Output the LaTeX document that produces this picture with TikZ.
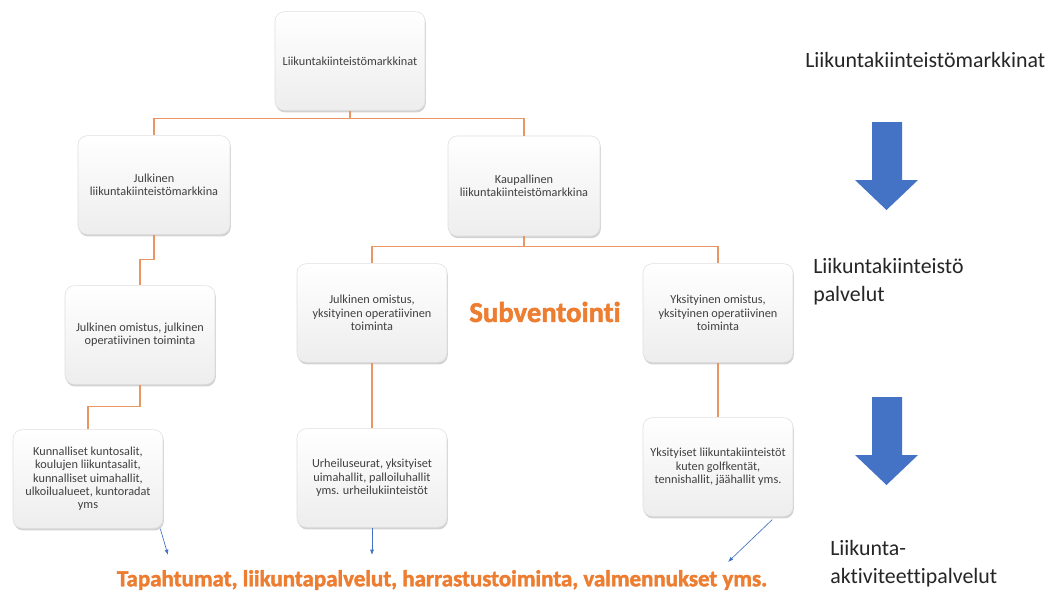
\documentclass[tikz,border=0pt]{standalone}
\usepackage{fontspec}
\setmainfont{Carlito}[Ligatures=NoCommon]
\newfontfamily\heavyfont{Carlito}[Ligatures=NoCommon, BoldFeatures={FakeBold=1.8}]
\usetikzlibrary{shadows,calc,arrows.meta}
\definecolor{linkorange}{RGB}{232,150,100}
\definecolor{headorange}{RGB}{237,125,49}
\definecolor{officeblue}{RGB}{68,114,196}
\tikzset{
  box/.style={rectangle, rounded corners=7pt, draw=gray!25, line width=0.4pt,
    top color=white, bottom color=gray!14, minimum width=112.5pt, minimum height=74pt,
    align=center, font=\fontsize{9.2}{10}\selectfont, text=black!75, inner sep=2pt,
    drop shadow={opacity=0.35, shadow xshift=0.6pt, shadow yshift=-1.6pt}},
  conn/.style={draw=linkorange, line width=1.1pt},
  thinarrow/.style={draw=officeblue, line width=0.5pt, -{Latex[length=4pt,width=3pt]}},
  sidelabel/.style={anchor=west, align=left, font=\fontsize{16.4}{21}\selectfont, text=black!85, inner sep=0pt},
  bigarrow/.style={fill=officeblue, draw=none},
  hot/.style={text=headorange, inner sep=0pt}
}
\begin{document}
\begin{tikzpicture}[x=0.75pt,y=-0.75pt]
\useasboundingbox[fill=white] (0,0) rectangle (1052,596);

% boxes of the hierarchy
\node[box] (top) at (350,61) {Liikuntakiinteistömarkkinat};
\node[box, minimum width=114pt] (jul) at (154,185) {Julkinen\\liikuntakiinteistömarkkina};
\node[box, minimum width=114pt, minimum height=75pt] (kau) at (524,186) {Kaupallinen\\liikuntakiinteistömarkkina};
\node[box] (jj) at (140,335) {Julkinen omistus, julkinen\\operatiivinen toiminta};
\node[box] (jy) at (372,313) {Julkinen omistus,\\yksityinen operatiivinen\\toiminta};
\node[box] (yy) at (718,313) {Yksityinen omistus,\\yksityinen operatiivinen\\toiminta};
\node[box] (kun) at (88,479) {Kunnalliset kuntosalit,\\koulujen liikuntasalit,\\kunnalliset uimahallit,\\ulkoilualueet, kuntoradat\\yms};
\node[box] (urh) at (372,478) {Urheiluseurat, yksityiset\\uimahallit, palloiluhallit\\yms. urheilukiinteistöt};
\node[box] (yks) at (718,467) {Yksityiset liikuntakiinteistöt\\kuten golfkentät,\\tennishallit, jäähallit yms.};

% orange tree connectors
\draw[conn] (top.south) -- ++(0,8) -| (jul.north);
\draw[conn] (top.south) -- ++(0,8) -| (kau.north);
\draw[conn] (kau.south) -- ++(0,10) -| (jy.north);
\draw[conn] (kau.south) -- ++(0,10) -| (yy.north);
\draw[conn] (jul.south) -- ++(0,25) -| (jj.north);
\draw[conn] (jj.south) -- ++(0,22) -| (kun.north);
\draw[conn] (jy.south) -- (urh.north);
\draw[conn] (yy.south) -- (yks.north);

% thin arrows to the activities line
\coordinate (e1) at (168,555);
\coordinate (e2) at (372,555);
\coordinate (e3) at (728,562);
\draw[thinarrow] ($(kun.south east)+(-3,0)$) -- (e1);
\draw[thinarrow] (urh.south) -- (e2);
\draw[thinarrow] ($(yks.south east)+(-21,3)$) -- (e3);

% orange headings
\node[hot, font=\heavyfont\fontsize{21.5}{24}\bfseries\selectfont] (sub) at (545,312) {Subventointi};
\node[hot, font=\heavyfont\fontsize{17.2}{20}\bfseries\selectfont] (act) at (442,580) {Tapahtumat, liikuntapalvelut, harrastustoiminta, valmennukset yms.};

% level labels on the right
\node[sidelabel] (l1) at (805,60) {Liikuntakiinteistömarkkinat};
\node[sidelabel] (l2) at (813,282) {Liikuntakiinteistö\\palvelut};
\node[sidelabel] (l3) at (830,564) {Liikunta-\\aktiviteettipalvelut};

% block arrows between levels
\path[bigarrow] (872,122) -- (902,122) -- (902,180) -- (918,180) -- (886.5,210) -- (855,180) -- (872,180) -- cycle;
\path[bigarrow] (872,397) -- (902,397) -- (902,455) -- (918,455) -- (886.5,485) -- (855,455) -- (872,455) -- cycle;
\end{tikzpicture}
\end{document}
